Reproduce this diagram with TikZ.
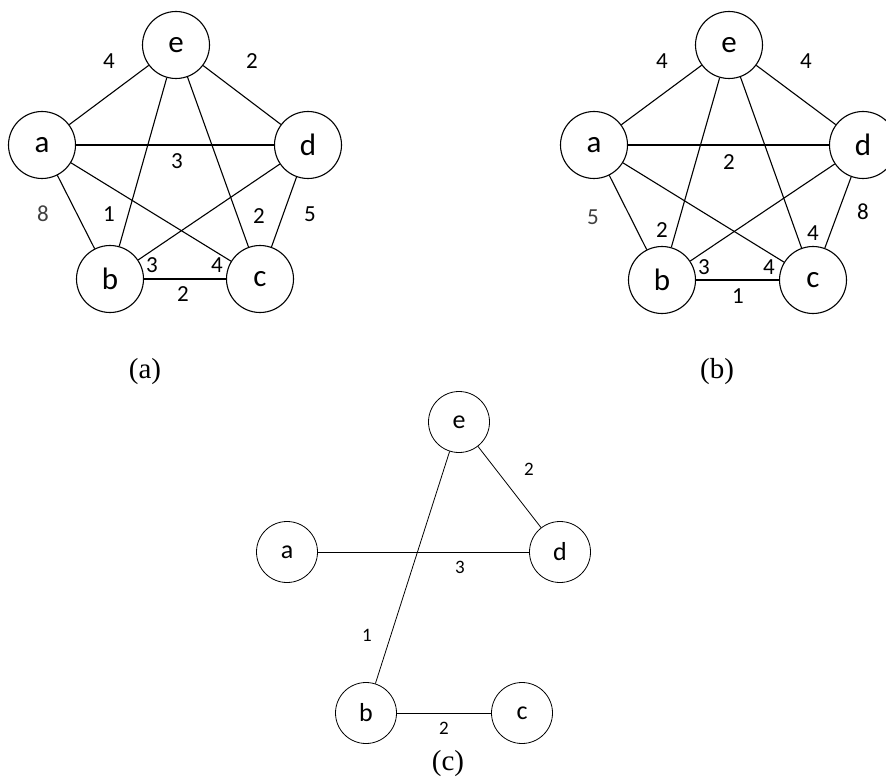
\documentclass[tikz,border=0pt]{standalone}
\usepackage{fontspec}
\setmainfont{Carlito}
\newfontfamily\capfont{Liberation Serif}
\begin{document}
\begin{tikzpicture}[x=1pt,y=-1pt,
  bignode/.style={circle,draw,line width=1.1pt,minimum size=67pt,inner sep=0pt,font=\fontsize{31}{31}\selectfont},
  smallnode/.style={circle,draw,line width=0.8pt,minimum size=61pt,inner sep=0pt,font=\fontsize{26}{26}\selectfont},
  bigedge/.style={line width=1.1pt},
  smalledge/.style={line width=0.8pt},
  wlab/.style={inner sep=0pt,font=\fontsize{23}{23}\selectfont},
  swlab/.style={inner sep=0pt,font=\fontsize{19}{19}\selectfont},
  captext/.style={inner sep=0pt,font=\capfont\fontsize{29}{29}\selectfont}]
\useasboundingbox (0,0) rectangle (886,778);
% ---------- (a)
\node[bignode] (ae) at (176,45) {e};
\node[bignode] (aa) at (42,145) {a};
\node[bignode] (ad) at (308,145) {d};
\node[bignode] (ab) at (110,279) {b};
\node[bignode] (ac) at (260,279) {c};
\foreach \u/\v in {aa/ae,ae/ad,aa/ad,aa/ab,aa/ac,ae/ab,ae/ac,ad/ab,ad/ac,ab/ac}
  \draw[bigedge] (\u) -- (\v);
\node[wlab] (la1) at (109,61) {4};
\node[wlab] (la2) at (252,61) {2};
\node[wlab] (la3) at (177,161) {3};
\node[wlab,text=black!75] (la4) at (43,214) {8};
\node[wlab] (la5) at (109,214) {1};
\node[wlab] (la6) at (259,216) {2};
\node[wlab] (la7) at (310,214) {5};
\node[wlab] (la8) at (152,265) {3};
\node[wlab] (la9) at (217,265) {4};
\node[wlab] (la10) at (183,294) {2};
\node[captext] (capa) at (145,372) {(a)};
% ---------- (b)
\node[bignode] (be) at (729,45) {e};
\node[bignode] (ba) at (594,145) {a};
\node[bignode] (bd) at (863,145) {d};
\node[bignode] (bb) at (662,280) {b};
\node[bignode] (bc) at (813,280) {c};
\foreach \u/\v in {ba/be,be/bd,ba/bd,ba/bb,ba/bc,be/bb,be/bc,bd/bb,bd/bc,bb/bc}
  \draw[bigedge] (\u) -- (\v);
\node[wlab] (lb1) at (662,61) {4};
\node[wlab] (lb2) at (806,61) {4};
\node[wlab] (lb3) at (729,162) {2};
\node[wlab,text=black!75] (lb4) at (593,217) {5};
\node[wlab] (lb5) at (662,230) {2};
\node[wlab] (lb6) at (813,233) {4};
\node[wlab] (lb7) at (863,212) {8};
\node[wlab] (lb8) at (704,267) {3};
\node[wlab] (lb9) at (769,267) {4};
\node[wlab] (lb10) at (738,296) {1};
\node[captext] (capb) at (717,372) {(b)};
% ---------- (c)
\node[smallnode] (ce) at (459,422) {e};
\node[smallnode] (ca) at (287,552) {a};
\node[smallnode] (cd) at (560,552) {d};
\node[smallnode] (cb) at (366,713) {b};
\node[smallnode] (cc) at (522,713) {c};
\foreach \u/\v in {ce/cd,ca/cd,ce/cb,cb/cc}
  \draw[smalledge] (\u) -- (\v);
\node[swlab] (lc1) at (529,469) {2};
\node[swlab] (lc2) at (460,567) {3};
\node[swlab] (lc3) at (367,635) {1};
\node[swlab] (lc4) at (444,728) {2};
\node[captext] (capc) at (448,764) {(c)};
\end{tikzpicture}
\end{document}
